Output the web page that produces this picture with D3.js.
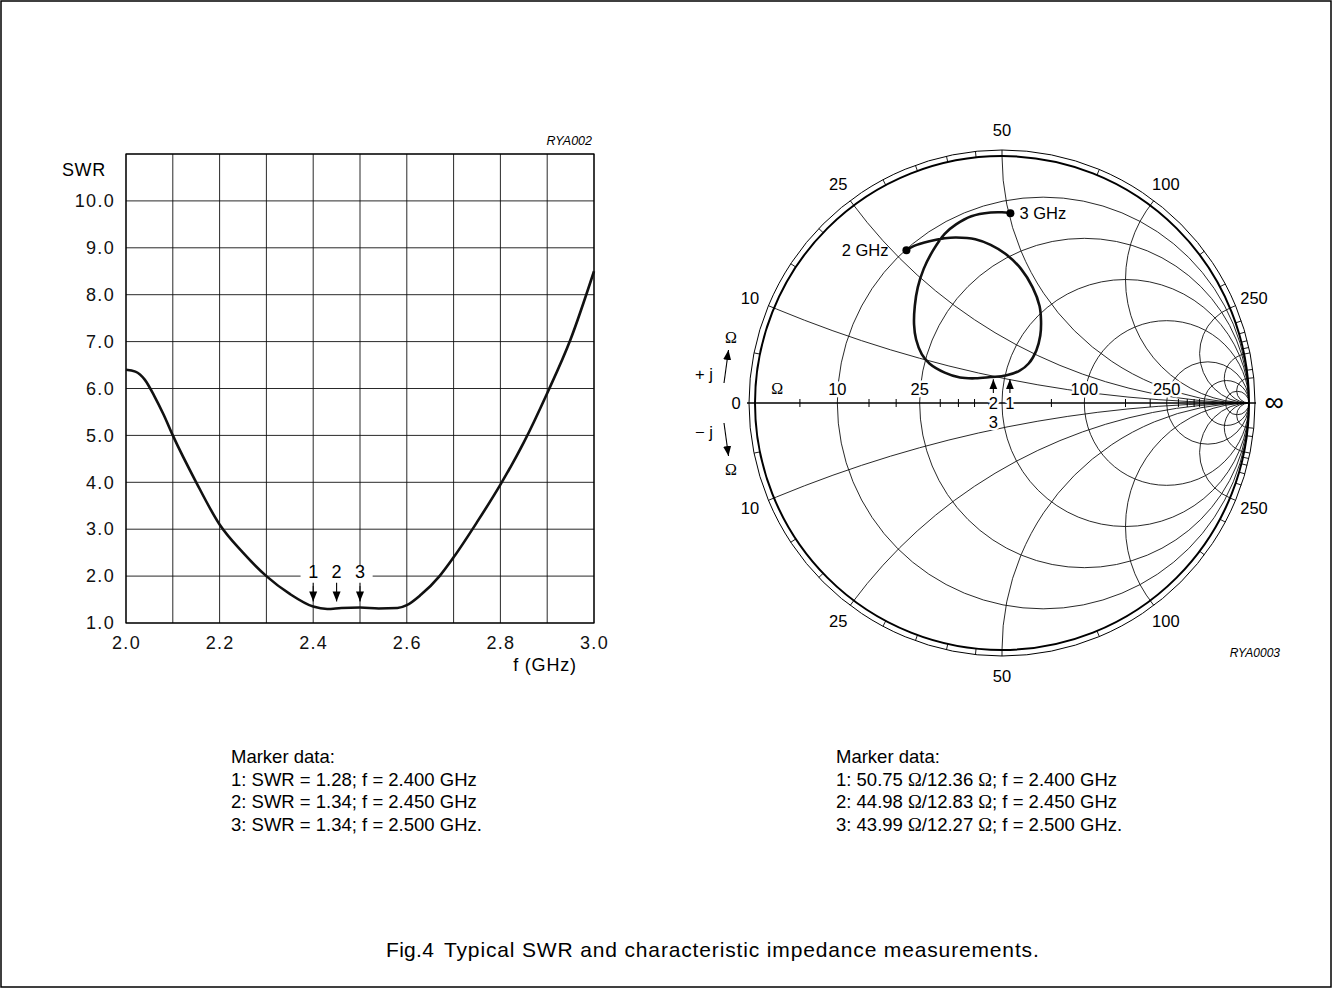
<!DOCTYPE html>
<html>
<head>
<meta charset="utf-8">
<script src="https://cdnjs.cloudflare.com/ajax/libs/d3/7.8.5/d3.min.js"></script>
<style>
body { margin: 0; background: #fff; }
svg { display: block; font-family: "Liberation Sans", Arial, sans-serif; }
.grid { fill: none; stroke: #111; stroke-width: 0.9; }
.halo { paint-order: stroke; stroke: #fff; stroke-width: 5px; stroke-linejoin: round; }
</style>
</head>
<body>
<div id="chart"></div>
<script>

// ---- SWR chart data
const swrFreq = [2.00, 2.02, 2.04, 2.06, 2.08, 2.10, 2.15, 2.20, 2.25, 2.30, 2.35, 2.40, 2.43, 2.46, 2.50, 2.54, 2.58, 2.60, 2.63, 2.67, 2.70, 2.75, 2.80, 2.85, 2.90, 2.95, 3.00];
const swrValues = [6.40, 6.36, 6.19, 5.85, 5.45, 5.00, 4.00, 3.10, 2.50, 2.00, 1.62, 1.35, 1.30, 1.32, 1.33, 1.31, 1.32, 1.38, 1.60, 2.00, 2.40, 3.15, 3.95, 4.85, 5.90, 7.05, 8.50];
const swrYTicks = [1, 2, 3, 4, 5, 6, 7, 8, 9, 10];
const swrXTicks = [2.0, 2.2, 2.4, 2.6, 2.8, 3.0];

// ---- marker data
const markerNames = ["1", "2", "3"];
const markerFreq = [2.400, 2.450, 2.500];
const markerSwr = [1.28, 1.34, 1.34];
const markerR = [50.75, 44.98, 43.99];
const markerX = [12.36, 12.83, 12.27];

// ---- Smith chart grid (ohms, Z0 = 50)
const Z0 = 50;
const resCircles = [10, 25, 50, 100, 250, 500, 1000];
const reactArcs = [10, 25, 50, 100, 250, 500, 1000];
const axisLabels = [10, 25, 100, 250];
const axisTicks = [5, 15, 20, 30, 35, 40, 45, 75, 150, 200, 300, 350, 400, 450];
const ringTicks = [5, 10, 15, 20, 25, 30, 35, 40, 45, 50, 75, 100, 150, 200, 250, 300, 350, 400, 450, 500, 750, 1000];
const rimLabels = [10, 25, 50, 100, 250];

// impedance trace 2 GHz -> 3 GHz, as reflection coefficient (re, im)
const traceRe = [-0.387, -0.356, -0.294, -0.232, -0.186, -0.108, -0.046, 0.015, 0.077, 0.124, 0.152, 0.158, 0.155, 0.139, 0.108, 0.070, 0.015, -0.046, -0.108, -0.170, -0.232, -0.294, -0.325, -0.348, -0.356, -0.353, -0.341, -0.317, -0.279, -0.232, -0.186, -0.124, -0.046, 0.000, 0.034];
const traceIm = [0.618, 0.636, 0.655, 0.667, 0.670, 0.663, 0.640, 0.603, 0.543, 0.468, 0.393, 0.333, 0.273, 0.213, 0.160, 0.130, 0.111, 0.105, 0.100, 0.103, 0.123, 0.160, 0.198, 0.258, 0.318, 0.393, 0.468, 0.543, 0.618, 0.685, 0.723, 0.756, 0.771, 0.772, 0.768];
// marker positions on the trace (re) for 2.40 / 2.45 / 2.50 GHz
const smithMarkerRe = [0.032, -0.035, -0.035];


const W = 1332, H = 988;
const svg = d3.select("#chart").append("svg")
	.attr("width", W)
	.attr("height", H);

svg.append("rect")
	.attr("x", 1).attr("y", 1)
	.attr("width", W - 2).attr("height", H - 2)
	.attr("fill", "none").attr("stroke", "#000").attr("stroke-width", 1.5);

svg.append("defs").append("marker")
	.attr("id", "arr")
	.attr("viewBox", "0 0 10 10")
	.attr("refX", 10).attr("refY", 5)
	.attr("markerWidth", 10).attr("markerHeight", 10)
	.attr("markerUnits", "userSpaceOnUse")
	.attr("orient", "auto")
  .append("path")
	.attr("d", "M0,1 L10,5 L0,9 Z")
	.attr("fill", "#000");


// ================= SWR chart
const x = d3.scaleLinear().domain([2, 3]).range([126, 594]);
const y = d3.scaleLinear().domain([1, 11]).range([623, 154]);

const swr = svg.append("g");

// grid
swr.append("g").selectAll("line")
	.data(d3.range(0, 11))
	.join("line")
	.attr("class", "grid")
	.attr("x1", d => x(2 + d / 10)).attr("x2", d => x(2 + d / 10))
	.attr("y1", y(1)).attr("y2", y(11));
swr.append("g").selectAll("line")
	.data(d3.range(1, 12))
	.join("line")
	.attr("class", "grid")
	.attr("x1", x(2)).attr("x2", x(3))
	.attr("y1", d => y(d)).attr("y2", d => y(d));
swr.append("rect")
	.attr("x", x(2)).attr("y", y(11))
	.attr("width", x(3) - x(2)).attr("height", y(1) - y(11))
	.attr("fill", "none").attr("stroke", "#000").attr("stroke-width", 1.2);

// axes labels
const yAxis = d3.axisLeft(y).tickValues(swrYTicks).tickFormat(d3.format(".1f")).tickSize(0).tickPadding(11);
const yAxisEl = swr.append("g").attr("transform", "translate(" + x(2) + ",0)").call(yAxis);
const xAxis = d3.axisBottom(x).tickValues(swrXTicks).tickFormat(d3.format(".1f")).tickSize(0).tickPadding(13);
const xAxisEl = swr.append("g").attr("transform", "translate(0," + y(1) + ")").call(xAxis);
[yAxisEl, xAxisEl].forEach(a => {
	a.select(".domain").remove();
	a.selectAll("text")
		.attr("font-family", "Liberation Sans, Arial, sans-serif")
		.attr("font-size", 18)
		.attr("letter-spacing", 1.3)
		.attr("fill", "#111");
});

swr.append("text")
	.attr("x", 62).attr("y", 176)
	.attr("font-size", 18).attr("letter-spacing", 0.6)
	.text("SWR");
swr.append("text")
	.attr("x", 545).attr("y", 671)
	.attr("text-anchor", "middle")
	.attr("font-size", 18).attr("letter-spacing", 0.8)
	.text("f (GHz)");
swr.append("text")
	.attr("x", 592).attr("y", 145)
	.attr("text-anchor", "end")
	.attr("font-size", 12.5).attr("font-style", "italic")
	.text("RYA002");

// markers
swr.append("rect")
	.attr("x", x(2.373)).attr("y", y(2) - 10)
	.attr("width", x(2.527) - x(2.373)).attr("height", 20)
	.attr("fill", "#fff");
swr.append("g").selectAll("line")
	.data(markerFreq)
	.join("line")
	.attr("x1", d => x(d)).attr("x2", d => x(d))
	.attr("y1", y(1.86)).attr("y2", y(1.46))
	.attr("stroke", "#000").attr("stroke-width", 1.1)
	.attr("marker-end", "url(#arr)");
swr.append("g").selectAll("text")
	.data(markerFreq)
	.join("text")
	.attr("x", d => x(d)).attr("y", y(2.09) + 6)
	.attr("text-anchor", "middle")
	.attr("font-size", 18)
	.text((d, i) => markerNames[i]);

// curve
swr.append("path")
	.datum(swrFreq.map((f, i) => [f, swrValues[i]]))
	.attr("fill", "none")
	.attr("stroke", "#111")
	.attr("stroke-width", 2.6)
	.attr("d", d3.line().x(d => x(d[0])).y(d => y(d[1])).curve(d3.curveMonotoneX));


// ================= Smith chart
const cx = 1002, cy = 403, R = 247, Rout = 253;
const gx = d3.scaleLinear().domain([-1, 1]).range([cx - R, cx + R]);
const gy = d3.scaleLinear().domain([-1, 1]).range([cy + R, cy - R]);
const sc = gx(1) - gx(0);

// position on the real axis for a resistance, angle on the rim for a reactance
const gammaR = r => (r / Z0 - 1) / (r / Z0 + 1);
const rimAngle = xo => Math.PI - 2 * Math.atan(xo / Z0);

const smith = svg.append("g");
smith.append("clipPath").attr("id", "unit")
	.append("circle").attr("cx", cx).attr("cy", cy).attr("r", R);

const grid = smith.append("g").attr("clip-path", "url(#unit)");
grid.selectAll("circle.res")
	.data(resCircles)
	.join("circle")
	.attr("class", "grid res")
	.attr("cx", d => gx((d / Z0) / (1 + d / Z0)))
	.attr("cy", cy)
	.attr("r", d => sc / (1 + d / Z0));
grid.selectAll("circle.reac")
	.data(reactArcs.flatMap(d => [d, -d]))
	.join("circle")
	.attr("class", "grid reac")
	.attr("cx", gx(1))
	.attr("cy", d => gy(Z0 / d))
	.attr("r", d => sc * Z0 / Math.abs(d));

// rim
smith.append("circle").attr("cx", cx).attr("cy", cy).attr("r", R)
	.attr("fill", "none").attr("stroke", "#000").attr("stroke-width", 2);
smith.append("circle").attr("cx", cx).attr("cy", cy).attr("r", Rout)
	.attr("fill", "none").attr("stroke", "#000").attr("stroke-width", 1);
smith.append("g").selectAll("line")
	.data(ringTicks.flatMap(d => [d, -d]))
	.join("line")
	.attr("x1", d => gx(Math.cos(rimAngle(d)))).attr("y1", d => gy(Math.sin(rimAngle(d))))
	.attr("x2", d => gx(Rout / R * Math.cos(rimAngle(d)))).attr("y2", d => gy(Rout / R * Math.sin(rimAngle(d))))
	.attr("stroke", "#000").attr("stroke-width", 0.9);
smith.append("g").selectAll("text")
	.data(rimLabels.flatMap(d => [d, -d]))
	.join("text")
	.attr("x", d => gx(273 / R * Math.cos(rimAngle(d))))
	.attr("y", d => gy(273 / R * Math.sin(rimAngle(d))))
	.attr("dy", "0.35em")
	.attr("text-anchor", "middle")
	.attr("font-size", 16.5)
	.text(d => Math.abs(d));

// real axis
smith.append("line")
	.attr("x1", cx - 255).attr("x2", cx + 254)
	.attr("y1", cy).attr("y2", cy)
	.attr("stroke", "#000").attr("stroke-width", 1.3);
smith.append("g").selectAll("line")
	.data(axisTicks)
	.join("line")
	.attr("x1", d => gx(gammaR(d))).attr("x2", d => gx(gammaR(d)))
	.attr("y1", cy - 4).attr("y2", cy + 4)
	.attr("stroke", "#000").attr("stroke-width", 1);
smith.append("g").selectAll("text")
	.data(axisLabels)
	.join("text")
	.attr("class", "halo")
	.attr("x", d => gx(gammaR(d)))
	.attr("y", cy - 8)
	.attr("text-anchor", "middle")
	.attr("font-size", 16.5)
	.text(d => d);
smith.append("text")
	.attr("x", gx(-0.91)).attr("y", cy - 9)
	.attr("text-anchor", "middle")
	.attr("font-family", "Liberation Serif, serif")
	.attr("font-size", 16)
	.text("Ω");

// left side legend (0, +j, -j)
smith.append("text").attr("x", cx - 266).attr("y", cy + 6)
	.attr("text-anchor", "middle").attr("font-size", 16.5).text("0");
smith.append("text").attr("x", cx + 272).attr("y", cy + 8)
	.attr("text-anchor", "middle").attr("font-size", 27).text("∞");
const jLabels = [{ s: "+ j", dir: -1 }, { s: "− j", dir: 1 }];
jLabels.forEach(j => {
	smith.append("text").attr("x", 713).attr("y", cy + j.dir * 29 + 6)
		.attr("text-anchor", "end").attr("font-size", 16.5).text(j.s);
	smith.append("line")
		.attr("x1", 724).attr("y1", cy + j.dir * 20)
		.attr("x2", 728.5).attr("y2", cy + j.dir * 53)
		.attr("stroke", "#000").attr("stroke-width", 1.1)
		.attr("marker-end", "url(#arr)");
	smith.append("text").attr("x", 731).attr("y", cy + j.dir * 66 + 6)
		.attr("text-anchor", "middle")
		.attr("font-family", "Liberation Serif, serif")
		.attr("font-size", 16).text("Ω");
});

// trace
const trace = traceRe.map((d, i) => [d, traceIm[i]]);
smith.append("path")
	.datum(trace)
	.attr("fill", "none")
	.attr("stroke", "#111")
	.attr("stroke-width", 2.6)
	.attr("d", d3.line().x(d => gx(d[0])).y(d => gy(d[1])).curve(d3.curveCatmullRom.alpha(0.5)));
const ends = [trace[0], trace[trace.length - 1]];
smith.selectAll("circle.end")
	.data(ends)
	.join("circle")
	.attr("class", "end")
	.attr("cx", d => gx(d[0])).attr("cy", d => gy(d[1]))
	.attr("r", 4).attr("fill", "#000");
smith.append("text").attr("x", gx(ends[0][0]) - 18).attr("y", gy(ends[0][1]) + 6)
	.attr("text-anchor", "end").attr("font-size", 16.5).text("2 GHz");
smith.append("text").attr("x", gx(ends[1][0]) + 9).attr("y", gy(ends[1][1]) + 6)
	.attr("font-size", 16.5).text("3 GHz");

// smith markers
smith.append("g").selectAll("line")
	.data(smithMarkerRe.slice(0, 2))
	.join("line")
	.attr("x1", d => gx(d)).attr("x2", d => gx(d))
	.attr("y1", gy(0.04)).attr("y2", gy(0.096))
	.attr("stroke", "#000").attr("stroke-width", 1.1)
	.attr("marker-end", "url(#arr)");
smith.append("g").selectAll("text")
	.data(smithMarkerRe)
	.join("text")
	.attr("class", "halo")
	.attr("x", d => gx(d))
	.attr("y", (d, i) => i < 2 ? cy + 6 : cy + 25)
	.attr("text-anchor", "middle")
	.attr("font-size", 16.5)
	.text((d, i) => markerNames[i]);

smith.append("text")
	.attr("x", 1280).attr("y", 657)
	.attr("text-anchor", "end")
	.attr("font-size", 12).attr("font-style", "italic")
	.text("RYA0003");


// ================= marker data text
const lineGap = 22.5;
const leftLines = ["Marker data:"].concat(markerNames.map((m, i) =>
	m + ": SWR = " + markerSwr[i].toFixed(2) + "; f = " + markerFreq[i].toFixed(3) + " GHz" + (i == 2 ? "." : "")));
svg.append("g").selectAll("text")
	.data(leftLines)
	.join("text")
	.attr("x", 231).attr("y", (d, i) => 763 + i * lineGap)
	.attr("font-size", 18.5)
	.text(d => d);

const rightText = svg.append("g").selectAll("text")
	.data(["Marker data:"].concat(markerNames))
	.join("text")
	.attr("x", 836).attr("y", (d, i) => 763 + i * lineGap)
	.attr("font-size", 18.5);
rightText.each(function(d, k) {
	const t = d3.select(this);
	if (k == 0) { t.text(d); return; }
	const i = k - 1;
	t.append("tspan").text(d + ": " + markerR[i].toFixed(2) + " ");
	t.append("tspan").attr("font-family", "Liberation Serif, serif").text("Ω");
	t.append("tspan").text("/" + markerX[i].toFixed(2) + " ");
	t.append("tspan").attr("font-family", "Liberation Serif, serif").text("Ω");
	t.append("tspan").text("; f = " + markerFreq[i].toFixed(3) + " GHz" + (i == 2 ? "." : ""));
});

// caption
svg.append("text").attr("x", 386).attr("y", 957).attr("font-size", 21).attr("letter-spacing", 0.3).text("Fig.4");
svg.append("text").attr("x", 444).attr("y", 957).attr("font-size", 21).attr("letter-spacing", 0.85)
	.text("Typical SWR and characteristic impedance measurements.");

</script>
</body>
</html>
